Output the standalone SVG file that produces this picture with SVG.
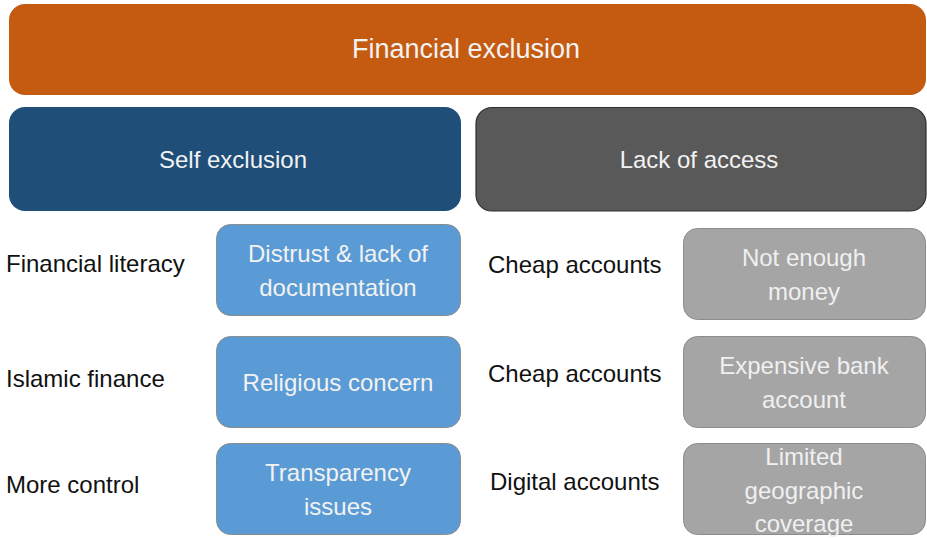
<svg xmlns="http://www.w3.org/2000/svg" width="927" height="538" viewBox="0 0 927 538">
<style>
text{font-family:"Liberation Sans",Arial,sans-serif;font-size:24px}
.w{fill:#F2F2F2;text-anchor:middle}
.g{fill:#F0F0F0;text-anchor:middle}
.k{fill:#111111}
.blue{fill:#5B9BD5;stroke:#8C8C8C;stroke-width:1}
.grey{fill:#A5A5A5;stroke:#8C8C8C;stroke-width:1}
</style>
<rect width="927" height="538" fill="#FFFFFF"/>
<g id="financial-exclusion">
<rect x="9" y="4" width="917" height="91" rx="16" fill="#C55A11"/>
<text class="w" x="466" y="58" style="font-size:27px">Financial exclusion</text>
</g>
<g id="self-exclusion">
<rect x="9" y="107" width="452" height="104" rx="16" fill="#1F4E79"/>
<text class="w" x="233" y="168">Self exclusion</text>
</g>
<g id="lack-of-access">
<rect x="476" y="107.5" width="450" height="103.5" rx="16" fill="#595959" stroke="#2E2E2E" stroke-width="1.2"/>
<text class="w" x="699" y="168">Lack of access</text>
</g>
<g id="distrust">
<rect class="blue" x="216.5" y="224.5" width="244" height="91" rx="14"/>
<text class="w" x="338" y="262">Distrust &amp; lack of</text>
<text class="w" x="338" y="296">documentation</text>
</g>
<g id="religious">
<rect class="blue" x="216.5" y="336.5" width="244" height="91" rx="14"/>
<text class="w" x="338" y="391">Religious concern</text>
</g>
<g id="transparency">
<rect class="blue" x="216.5" y="443.5" width="244" height="91" rx="14"/>
<text class="w" x="338" y="481">Transparency</text>
<text class="w" x="338" y="515">issues</text>
</g>
<g id="not-enough-money">
<rect class="grey" x="683.5" y="228.5" width="242" height="91" rx="14"/>
<text class="g" x="804" y="266">Not enough</text>
<text class="g" x="804" y="300">money</text>
</g>
<g id="expensive-bank-account">
<rect class="grey" x="683.5" y="336.5" width="242" height="91" rx="14"/>
<text class="g" x="804" y="374">Expensive bank</text>
<text class="g" x="804" y="408">account</text>
</g>
<g id="limited-coverage">
<rect class="grey" x="683.5" y="443.5" width="242" height="91" rx="14"/>
<text class="g" x="804" y="465">Limited</text>
<text class="g" x="804" y="499">geographic</text>
<text class="g" x="804" y="532">coverage</text>
</g>
<g id="financial-literacy"><text class="k" x="6" y="272">Financial literacy</text></g>
<g id="islamic-finance"><text class="k" x="6" y="387">Islamic finance</text></g>
<g id="more-control"><text class="k" x="6" y="493">More control</text></g>
<g id="cheap-accounts-1"><text class="k" x="488" y="273">Cheap accounts</text></g>
<g id="cheap-accounts-2"><text class="k" x="488" y="382">Cheap accounts</text></g>
<g id="digital-accounts"><text class="k" x="490" y="490">Digital accounts</text></g>
<g id="connectors"></g>
</svg>
